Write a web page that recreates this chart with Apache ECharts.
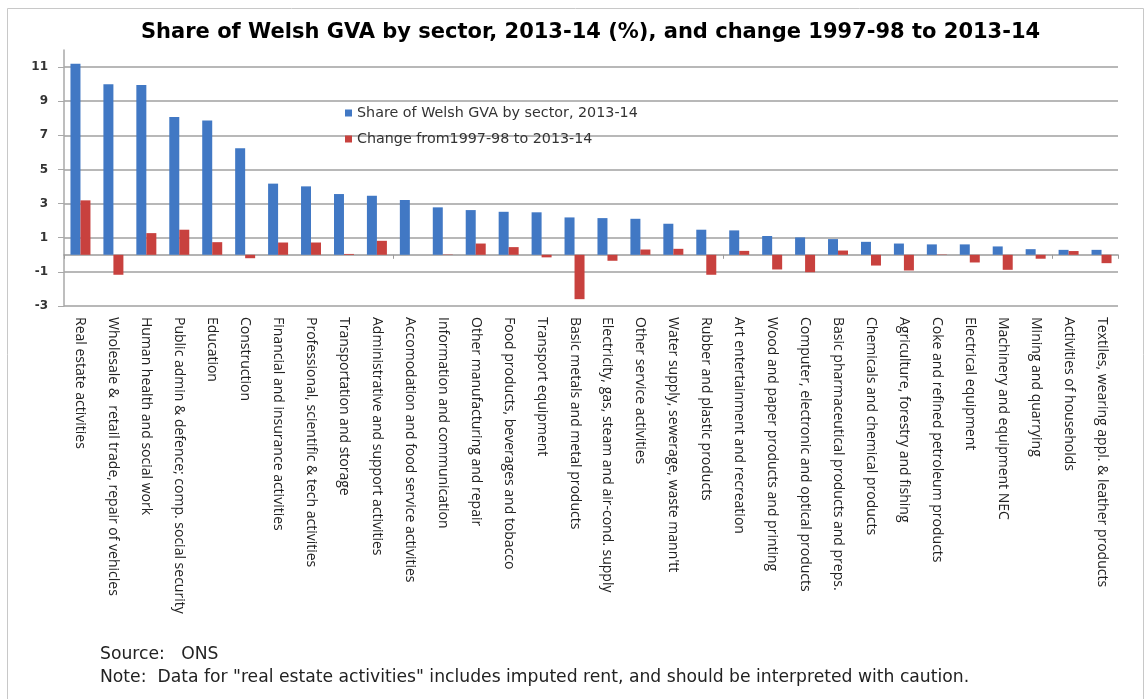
<!DOCTYPE html>
<html>
<head>
<meta charset="utf-8">
<script src="https://cdn.jsdelivr.net/npm/echarts@6/dist/echarts.min.js"></script>
<style>
html,body{margin:0;padding:0;background:#fff;}
#chart{width:1145px;height:699px;}
</style>
</head>
<body>
<div id="chart"></div>
<script>
const categories = [
  'Real estate activities',
  'Wholesale &  retail trade, repair of vehicles',
  'Human health and social work',
  'Public admin & defence; comp. social security',
  'Education',
  'Construction',
  'Financial and insurance activities',
  'Professional, scientific & tech activities',
  'Transportation and storage',
  'Administrative and support activities',
  'Accomodation and food service activities',
  'Information and communication',
  'Other manufacturing and repair',
  'Food products, beverages and tobacco',
  'Transport equipment',
  'Basic metals and metal products',
  'Electricity, gas, steam and air-cond. supply',
  'Other service activities',
  'Water supply, sewerage, waste mann\'tt',
  'Rubber and plastic products',
  'Art entertainment and recreation',
  'Wood and paper products and printing',
  'Computer, electronic and optical products',
  'Basic pharmaceutical products and preps.',
  'Chemicals and chemical products',
  'Agriculture, forestry and fishing',
  'Coke and refined petroleum products',
  'Electrical equipment',
  'Machinery and equipment NEC',
  'Mining and quarrying',
  'Activities of households',
  'Textiles, wearing appl. & leather products'
];
const share2013 = [11.2, 10.0, 9.95, 8.08, 7.87, 6.24, 4.17, 4.01, 3.56, 3.46,
  3.21, 2.78, 2.62, 2.52, 2.49, 2.19, 2.15, 2.11, 1.82, 1.47,
  1.43, 1.1, 1.02, 0.92, 0.76, 0.66, 0.61, 0.61, 0.49, 0.33, 0.29, 0.29];
const change9714 = [3.19, -1.17, 1.27, 1.47, 0.74, -0.2, 0.72, 0.72, 0.05, 0.82,
  0.0, 0.02, 0.66, 0.45, -0.15, -2.6, -0.35, 0.31, 0.35, -1.17,
  0.23, -0.86, -1.02, 0.25, -0.63, -0.92, 0.02, -0.45, -0.88, -0.23, 0.22, -0.49];
const yTicks = [-3, -1, 1, 3, 5, 7, 9, 11];
const seriesNames = ['Share of Welsh GVA by sector, 2013-14', 'Change from1997-98 to 2013-14'];
const titleText = 'Share of Welsh GVA by sector, 2013-14 (%), and change 1997-98 to 2013-14';
const sourceText = 'Source:   ONS';
const noteText = 'Note:  Data for "real estate activities" includes imputed rent, and should be interpreted with caution.';

const chart = echarts.init(document.getElementById('chart'));
const gridColor = '#b8b8b8';
chart.setOption({
  backgroundColor: '#ffffff',
  animation: false,
  title: {
    text: titleText,
    left: 136,
    top: 17,
    textStyle: {fontFamily: 'DejaVu Sans', fontWeight: 'bold', fontSize: 21, color: '#000'}
  },
  legend: {
    orient: 'vertical',
    left: 340,
    top: 101,
    itemWidth: 7,
    itemHeight: 7,
    itemGap: 12,
    icon: 'rect',
    textStyle: {fontFamily: 'DejaVu Sans', fontSize: 14.3, color: '#333'},
    data: seriesNames
  },
  grid: {left: 64, right: 27, top: 50, bottom: 393, containLabel: false},
  xAxis: [
    {
      type: 'category',
      data: categories,
      axisLine: {show: false, onZero: false},
      axisTick: {show: false},
      axisLabel: {
        interval: 0,
        rotate: -90,
        margin: 11,
        padding: [18, 0, 0, 0],
        fontFamily: 'Open Sans',
        fontSize: 14,
        color: '#222'
      }
    },
    {
      type: 'category',
      data: categories,
      position: 'bottom',
      axisLine: {show: true, onZero: true, lineStyle: {color: '#9a9a9a', width: 1.5}},
      axisTick: {show: true, length: 4, lineStyle: {color: '#9a9a9a'}},
      axisLabel: {show: false}
    }
  ],
  yAxis: {
    type: 'value',
    min: -3,
    max: 12,
    axisLine: {show: true, lineStyle: {color: '#a8a8a8', width: 1.5}},
    axisTick: {show: true, length: 6, customValues: yTicks, lineStyle: {color: '#a8a8a8'}},
    axisLabel: {
      customValues: yTicks,
      margin: 16,
      fontFamily: 'DejaVu Sans',
      fontWeight: 'bold',
      fontSize: 12,
      color: '#333'
    },
    splitLine: {show: true, lineStyle: {color: gridColor, width: 2}}
  },
  series: [
    {
      name: seriesNames[0],
      type: 'bar',
      xAxisIndex: 0,
      data: share2013,
      barWidth: 10,
      barGap: '0%',
      itemStyle: {color: '#4178c4'}
    },
    {
      name: seriesNames[1],
      type: 'bar',
      xAxisIndex: 0,
      data: change9714,
      barWidth: 10,
      barGap: '0%',
      itemStyle: {color: '#c8413e'}
    }
  ],
  graphic: [
    {
      type: 'rect',
      shape: {x: 7.5, y: 8.5, width: 1136, height: 710},
      style: {fill: 'none', stroke: '#c8c8c8', lineWidth: 1},
      silent: true
    },
    {
      type: 'text',
      left: 100,
      top: 646,
      style: {text: sourceText, fontFamily: 'DejaVu Sans', fontSize: 17.2, fill: '#222'}
    },
    {
      type: 'text',
      left: 100,
      top: 669,
      style: {text: noteText, fontFamily: 'DejaVu Sans', fontSize: 17.2, fill: '#222'}
    }
  ]
});
</script>
</body>
</html>
